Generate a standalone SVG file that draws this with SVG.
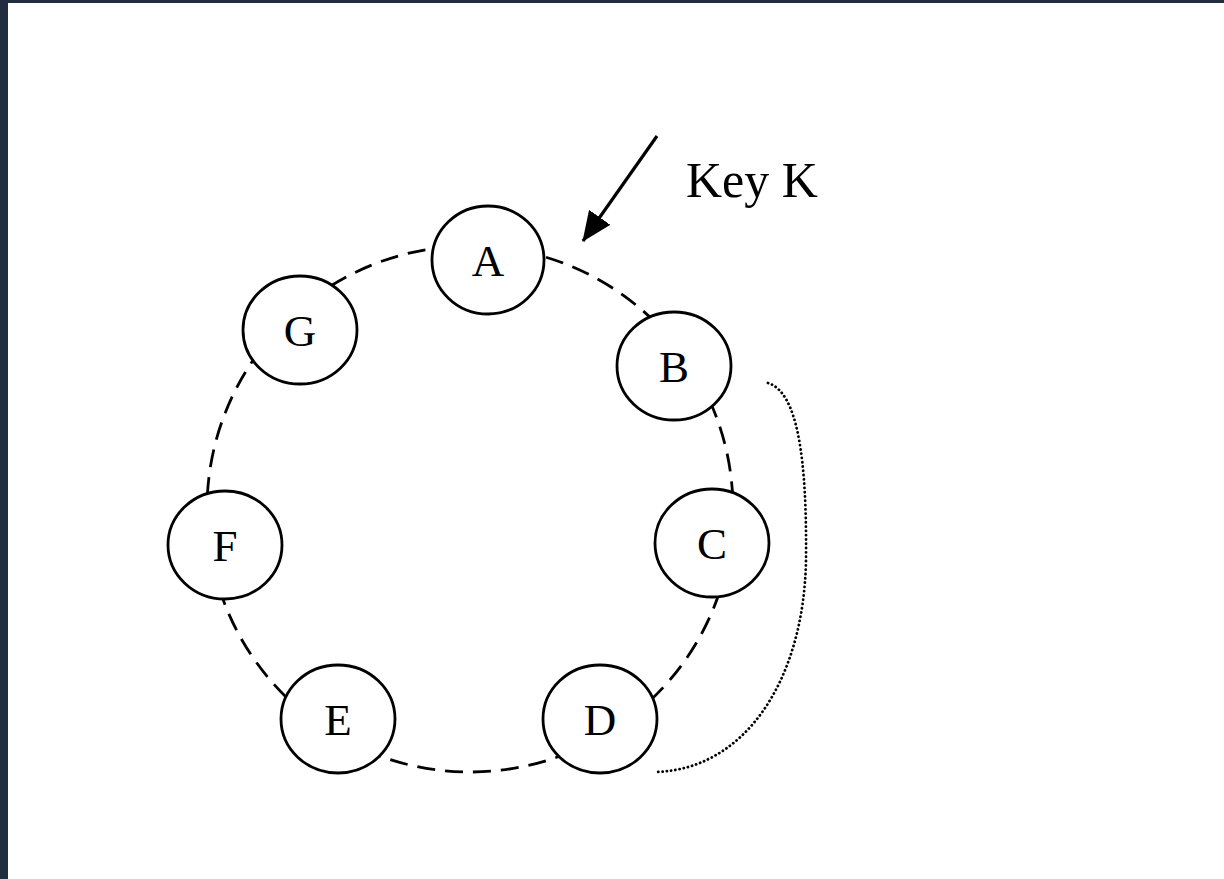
<svg xmlns="http://www.w3.org/2000/svg" width="1224" height="879" viewBox="0 0 1224 879">
  <style>
    .ring { fill: none; stroke: #000; stroke-width: 2.8; stroke-dasharray: 18 10; }
    .link { fill: none; stroke: #000; stroke-width: 2.8; stroke-dasharray: 0.1 4.2; stroke-linecap: round; }
    .node ellipse { fill: #fff; stroke: #000; stroke-width: 2.8; }
    .node text { font-family: "Liberation Serif", "Times New Roman", serif; font-size: 45px; text-anchor: middle; fill: #000; }
    .label { font-family: "Liberation Serif", "Times New Roman", serif; font-size: 50px; fill: #000; }
  </style>
  <defs>
    <marker id="arrowTip" viewBox="0 0 30 26" refX="29" refY="13" markerWidth="30" markerHeight="26" markerUnits="userSpaceOnUse" orient="auto">
      <path d="M0,0 L30,13 L0,26 z" fill="#000"/>
    </marker>
  </defs>

  <!-- frame -->
  <rect width="1224" height="879" fill="#fff"/>
  <rect x="0" y="0" width="1224" height="3" fill="#222e40"/>
  <rect x="0" y="0" width="8" height="879" fill="#222e40"/>

  <g id="connectors">
    <!-- hash ring -->
    <circle class="ring" cx="470" cy="509" r="263"/>
    <!-- replication span B..D -->
    <path class="link" d="M768,383 C798,392 807,460 806,560 C804,680 745,770 655,772"/>
    <!-- incoming key -->
    <line x1="657" y1="136" x2="583" y2="241" stroke="#000" stroke-width="3.2" marker-end="url(#arrowTip)"/>
  </g>

  <g id="node-A" class="node"><ellipse cx="488" cy="260" rx="56" ry="54"/><text x="488" y="276">A</text></g>
  <g id="node-B" class="node"><ellipse cx="674" cy="366" rx="57" ry="54"/><text x="674" y="382">B</text></g>
  <g id="node-C" class="node"><ellipse cx="712" cy="543" rx="57" ry="54"/><text x="712" y="559">C</text></g>
  <g id="node-D" class="node"><ellipse cx="600" cy="719" rx="57" ry="54"/><text x="600" y="735">D</text></g>
  <g id="node-E" class="node"><ellipse cx="338" cy="719" rx="57" ry="54"/><text x="338" y="735">E</text></g>
  <g id="node-F" class="node"><ellipse cx="225" cy="545" rx="57" ry="54"/><text x="225" y="561">F</text></g>
  <g id="node-G" class="node"><ellipse cx="300" cy="330" rx="57" ry="54"/><text x="300" y="346">G</text></g>

  <text id="key-label" class="label" x="686" y="197">Key K</text>
</svg>
